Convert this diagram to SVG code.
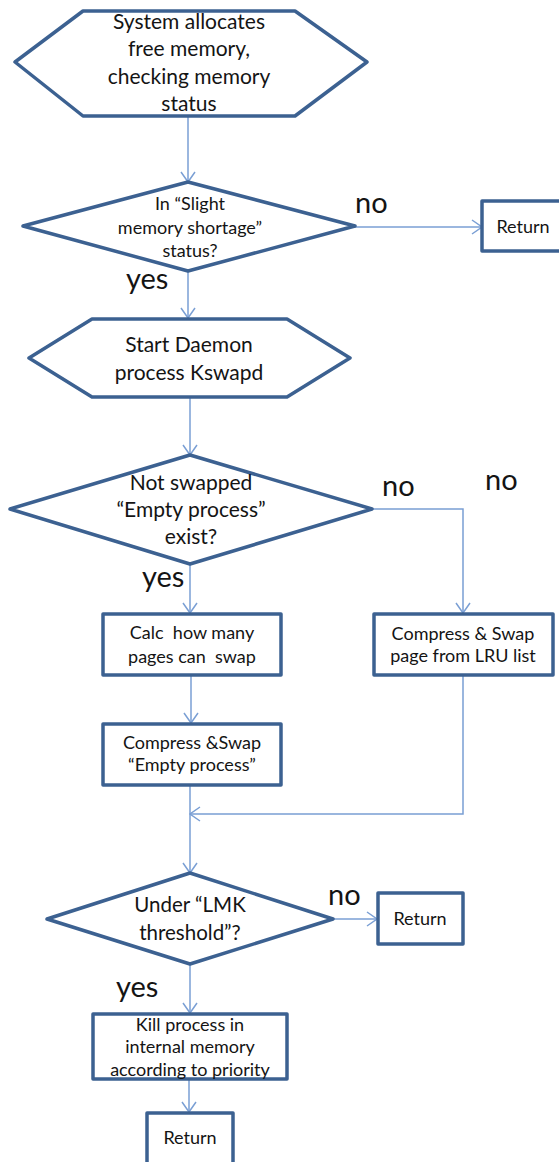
<svg xmlns="http://www.w3.org/2000/svg" width="559" height="1162" viewBox="0 0 559 1162">
  <defs>
    <marker id="arrow" viewBox="0 0 12 16" refX="11" refY="8" markerWidth="12" markerHeight="16" markerUnits="userSpaceOnUse" orient="auto">
      <path d="M1,1 L11,8 L1,15" fill="none" stroke="#7a9fd4" stroke-width="1.5"/>
    </marker>
    <style>
      .shape { fill: #ffffff; stroke: #3c6191; stroke-width: 3.5; stroke-linejoin: round; }
      .conn { fill: none; stroke: #7a9fd4; stroke-width: 1.5; }
      .arr { marker-end: url(#arrow); }
      text { font-family: Lato, "Liberation Sans", sans-serif; fill: #141414; text-anchor: middle; }
      .t21 { font-size: 21px; }
      .t20 { font-size: 20.5px; }
      .t18 { font-size: 18px; }
      .lbl { font-size: 29px; text-anchor: start; }
    </style>
  </defs>
  <rect width="559" height="1162" fill="#ffffff"/>

  <!-- connectors -->
  <g id="connectors">
    <line class="conn arr" x1="188" y1="116" x2="188" y2="182"/>
    <line class="conn arr" x1="355" y1="227" x2="482" y2="227"/>
    <line class="conn arr" x1="188" y1="271" x2="188" y2="318"/>
    <line class="conn arr" x1="190" y1="397" x2="190" y2="455"/>
    <polyline class="conn arr" points="372,509 463,509 463,613"/>
    <line class="conn arr" x1="190" y1="564" x2="190" y2="613"/>
    <line class="conn arr" x1="191" y1="675" x2="191" y2="723"/>
    <polyline class="conn arr" points="463,675 463,814 190,814"/>
    <line class="conn arr" x1="190" y1="785" x2="190" y2="873"/>
    <line class="conn arr" x1="333" y1="919" x2="377" y2="919"/>
    <line class="conn arr" x1="190" y1="964" x2="190" y2="1013"/>
    <line class="conn arr" x1="189" y1="1079" x2="189" y2="1112"/>
  </g>

  <!-- branch labels -->
  <g id="labels">
    <text class="lbl" x="355" y="213">no</text>
    <text class="lbl" x="126" y="289">yes</text>
    <text class="lbl" x="382" y="496">no</text>
    <text class="lbl" x="485" y="490">no</text>
    <text class="lbl" x="142" y="587">yes</text>
    <text class="lbl" x="328" y="905">no</text>
    <text class="lbl" x="116" y="997">yes</text>
  </g>

  <g id="start">
    <polygon class="shape" points="15,62 83,11 295,11 367,62 295,116 83,116"/>
    <text class="t21" x="189" y="29">System allocates</text>
    <text class="t21" x="189" y="56">free memory,</text>
    <text class="t21" x="189" y="84">checking memory</text>
    <text class="t21" x="189" y="111">status</text>
  </g>

  <g id="check-shortage">
    <polygon class="shape" points="23,226 188,182 355,226 188,271"/>
    <text class="t18" x="190" y="210">In “Slight</text>
    <text class="t18" x="190" y="234">memory shortage”</text>
    <text class="t18" x="190" y="257">status?</text>
  </g>

  <g id="return-1">
    <rect class="shape" x="482" y="201" width="90" height="50"/>
    <text class="t18" x="523" y="233">Return</text>
  </g>

  <g id="start-kswapd">
    <polygon class="shape" points="29,358 92,319 287,319 350,358 287,397 92,397"/>
    <text class="t21" x="189" y="352">Start Daemon</text>
    <text class="t21" x="189" y="380">process Kswapd</text>
  </g>

  <g id="check-empty">
    <polygon class="shape" points="10,509 190,455 372,509 190,564"/>
    <text class="t21" x="191" y="490">Not swapped</text>
    <text class="t21" x="191" y="517">“Empty process”</text>
    <text class="t21" x="191" y="544">exist?</text>
  </g>

  <g id="calc-pages">
    <rect class="shape" x="103" y="614" width="178" height="61"/>
    <text class="t18" x="192" y="639" xml:space="preserve">Calc  how many</text>
    <text class="t18" x="192" y="663" xml:space="preserve">pages can  swap</text>
  </g>

  <g id="swap-lru">
    <rect class="shape" x="374" y="614" width="179" height="61"/>
    <text class="t18" x="463" y="640">Compress &amp; Swap</text>
    <text class="t18" x="463" y="662">page from LRU list</text>
  </g>

  <g id="swap-empty">
    <rect class="shape" x="103" y="724" width="178" height="61"/>
    <text class="t18" x="192" y="749">Compress &amp;Swap</text>
    <text class="t18" x="192" y="771">“Empty process”</text>
  </g>

  <g id="check-lmk">
    <polygon class="shape" points="47,919 190,873 333,919 190,964"/>
    <text class="t20" x="190" y="912">Under “LMK</text>
    <text class="t20" x="190" y="940">threshold”?</text>
  </g>

  <g id="return-2">
    <rect class="shape" x="378" y="893" width="85" height="51"/>
    <text class="t18" x="420" y="925">Return</text>
  </g>

  <g id="kill-process">
    <rect class="shape" x="93" y="1014" width="194" height="65"/>
    <text class="t18" x="190" y="1031">Kill process in</text>
    <text class="t18" x="190" y="1053">internal memory</text>
    <text class="t18" x="190" y="1076">according to priority</text>
  </g>

  <g id="return-3">
    <rect class="shape" x="147" y="1113" width="86" height="60"/>
    <text class="t18" x="190" y="1144">Return</text>
  </g>
</svg>
